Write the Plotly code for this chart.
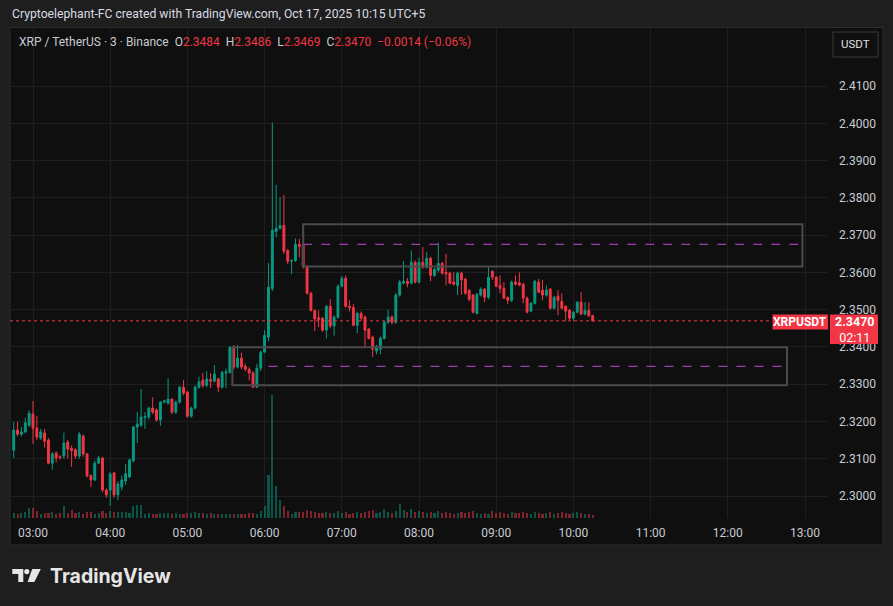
import plotly.graph_objects as go
import pandas as pd

# ---------------- data (3-minute candles, XRP/USDT, Binance) ----------------
start_time = "2025-10-17 02:45"
n_candles = 151
times = pd.date_range(start_time, periods=n_candles, freq="3min")

opens = [
    2.3123, 2.3177, 2.3166, 2.3172, 2.3190, 2.3220, 2.3182, 2.3155, 2.3169, 2.3150,
    2.3088, 2.3115, 2.3105, 2.3107, 2.3145, 2.3128, 2.3124, 2.3107, 2.3161, 2.3113,
    2.3055, 2.3043, 2.3088, 2.3102, 2.3016, 2.3016, 2.3062, 2.3003, 2.3024, 2.3040,
    2.3051, 2.3094, 2.3185, 2.3190, 2.3210, 2.3212, 2.3236, 2.3231, 2.3204, 2.3252,
    2.3249, 2.3260, 2.3225, 2.3252, 2.3292, 2.3279, 2.3214, 2.3236, 2.3292, 2.3311,
    2.3297, 2.3312, 2.3308, 2.3314, 2.3292, 2.3330, 2.3332, 2.3399, 2.3346, 2.3370,
    2.3348, 2.3340, 2.3330, 2.3292, 2.3343, 2.3386, 2.3426, 2.3557, 2.3710, 2.3718,
    2.3726, 2.3659, 2.3630, 2.3632, 2.3675, 2.3673, 2.3616, 2.3544, 2.3498, 2.3478,
    2.3477, 2.3445, 2.3509, 2.3456, 2.3480, 2.3563, 2.3584, 2.3509, 2.3506, 2.3458,
    2.3490, 2.3480, 2.3448, 2.3426, 2.3389, 2.3394, 2.3423, 2.3466, 2.3480, 2.3466,
    2.3539, 2.3571, 2.3576, 2.3571, 2.3627, 2.3574, 2.3627, 2.3614, 2.3638, 2.3592,
    2.3606, 2.3624, 2.3600, 2.3598, 2.3574, 2.3565, 2.3598, 2.3582, 2.3552, 2.3539,
    2.3490, 2.3539, 2.3555, 2.3533, 2.3603, 2.3587, 2.3565, 2.3557, 2.3533, 2.3525,
    2.3574, 2.3572, 2.3568, 2.3531, 2.3496, 2.3517, 2.3574, 2.3552, 2.3539, 2.3555,
    2.3504, 2.3536, 2.3522, 2.3509, 2.3498, 2.3477, 2.3493, 2.3520, 2.3488, 2.3498,
    2.3484,
]
highs = [
    2.3199, 2.3199, 2.3185, 2.3210, 2.3230, 2.3255, 2.3215, 2.3180, 2.3180, 2.3155,
    2.3118, 2.3120, 2.3110, 2.3170, 2.3150, 2.3135, 2.3128, 2.3172, 2.3165, 2.3115,
    2.3058, 2.3095, 2.3108, 2.3105, 2.3020, 2.3065, 2.3065, 2.3040, 2.3055, 2.3086,
    2.3100, 2.3188, 2.3225, 2.3287, 2.3225, 2.3240, 2.3265, 2.3235, 2.3255, 2.3258,
    2.3316, 2.3262, 2.3256, 2.3296, 2.3311, 2.3282, 2.3240, 2.3296, 2.3320, 2.3330,
    2.3335, 2.3330, 2.3351, 2.3318, 2.3335, 2.3342, 2.3402, 2.3405, 2.3405, 2.3385,
    2.3355, 2.3345, 2.3335, 2.3355, 2.3390, 2.3445, 2.3625, 2.4002, 2.3835, 2.3802,
    2.3807, 2.3662, 2.3635, 2.3691, 2.3690, 2.3728, 2.3620, 2.3548, 2.3500, 2.3498,
    2.3480, 2.3512, 2.3528, 2.3485, 2.3568, 2.3590, 2.3592, 2.3525, 2.3515, 2.3495,
    2.3495, 2.3485, 2.3450, 2.3430, 2.3405, 2.3428, 2.3470, 2.3500, 2.3485, 2.3545,
    2.3580, 2.3630, 2.3585, 2.3659, 2.3632, 2.3640, 2.3668, 2.3654, 2.3642, 2.3612,
    2.3680, 2.3628, 2.3650, 2.3602, 2.3600, 2.3602, 2.3602, 2.3586, 2.3555, 2.3542,
    2.3545, 2.3560, 2.3558, 2.3614, 2.3605, 2.3590, 2.3592, 2.3574, 2.3535, 2.3578,
    2.3592, 2.3600, 2.3572, 2.3535, 2.3520, 2.3580, 2.3582, 2.3580, 2.3565, 2.3558,
    2.3537, 2.3552, 2.3544, 2.3512, 2.3502, 2.3496, 2.3523, 2.3547, 2.3520, 2.3520,
    2.3486,
]
lows = [
    2.3102, 2.3160, 2.3160, 2.3168, 2.3185, 2.3140, 2.3150, 2.3150, 2.3130, 2.3085,
    2.3070, 2.3090, 2.3098, 2.3100, 2.3100, 2.3078, 2.3100, 2.3100, 2.3105, 2.3050,
    2.3024, 2.3040, 2.3085, 2.3010, 2.2995, 2.2973, 2.2995, 2.2989, 2.3015, 2.3030,
    2.3048, 2.3090, 2.3142, 2.3185, 2.3180, 2.3205, 2.3220, 2.3200, 2.3188, 2.3248,
    2.3245, 2.3220, 2.3220, 2.3248, 2.3270, 2.3210, 2.3210, 2.3232, 2.3288, 2.3290,
    2.3292, 2.3290, 2.3305, 2.3279, 2.3288, 2.3290, 2.3328, 2.3340, 2.3342, 2.3340,
    2.3335, 2.3310, 2.3290, 2.3290, 2.3335, 2.3415, 2.3415, 2.3550, 2.3694, 2.3715,
    2.3650, 2.3622, 2.3595, 2.3628, 2.3640, 2.3610, 2.3540, 2.3495, 2.3442, 2.3453,
    2.3440, 2.3423, 2.3450, 2.3430, 2.3475, 2.3560, 2.3505, 2.3495, 2.3455, 2.3437,
    2.3470, 2.3400, 2.3420, 2.3373, 2.3380, 2.3380, 2.3420, 2.3462, 2.3460, 2.3462,
    2.3535, 2.3568, 2.3560, 2.3568, 2.3570, 2.3570, 2.3610, 2.3610, 2.3576, 2.3588,
    2.3600, 2.3594, 2.3565, 2.3568, 2.3565, 2.3539, 2.3540, 2.3540, 2.3522, 2.3490,
    2.3487, 2.3535, 2.3520, 2.3528, 2.3580, 2.3560, 2.3544, 2.3528, 2.3515, 2.3520,
    2.3565, 2.3563, 2.3517, 2.3490, 2.3493, 2.3514, 2.3545, 2.3525, 2.3535, 2.3500,
    2.3500, 2.3485, 2.3500, 2.3469, 2.3472, 2.3470, 2.3490, 2.3485, 2.3485, 2.3480,
    2.3469,
]
closes = [
    2.3177, 2.3166, 2.3172, 2.3196, 2.3222, 2.3182, 2.3158, 2.3172, 2.3147, 2.3088,
    2.3113, 2.3102, 2.3103, 2.3142, 2.3126, 2.3122, 2.3107, 2.3166, 2.3113, 2.3054,
    2.3043, 2.3088, 2.3102, 2.3016, 2.3003, 2.3059, 2.3003, 2.3032, 2.3043, 2.3060,
    2.3097, 2.3185, 2.3193, 2.3212, 2.3213, 2.3236, 2.3225, 2.3204, 2.3252, 2.3255,
    2.3260, 2.3225, 2.3252, 2.3292, 2.3276, 2.3214, 2.3236, 2.3292, 2.3306, 2.3297,
    2.3314, 2.3308, 2.3327, 2.3292, 2.3332, 2.3333, 2.3399, 2.3346, 2.3370, 2.3346,
    2.3340, 2.3330, 2.3292, 2.3343, 2.3386, 2.3431, 2.3560, 2.3713, 2.3718, 2.3726,
    2.3657, 2.3630, 2.3632, 2.3675, 2.3670, 2.3616, 2.3544, 2.3498, 2.3475, 2.3474,
    2.3445, 2.3509, 2.3456, 2.3480, 2.3563, 2.3584, 2.3509, 2.3505, 2.3458, 2.3490,
    2.3477, 2.3445, 2.3423, 2.3394, 2.3402, 2.3423, 2.3466, 2.3480, 2.3466, 2.3539,
    2.3574, 2.3576, 2.3570, 2.3627, 2.3574, 2.3627, 2.3614, 2.3638, 2.3592, 2.3608,
    2.3624, 2.3598, 2.3596, 2.3571, 2.3568, 2.3598, 2.3580, 2.3544, 2.3528, 2.3493,
    2.3541, 2.3555, 2.3533, 2.3587, 2.3587, 2.3563, 2.3557, 2.3531, 2.3525, 2.3574,
    2.3568, 2.3566, 2.3531, 2.3493, 2.3517, 2.3576, 2.3547, 2.3539, 2.3552, 2.3504,
    2.3533, 2.3525, 2.3504, 2.3496, 2.3477, 2.3493, 2.3520, 2.3488, 2.3498, 2.3484,
    2.3470,
]
volumes_k = [
    50, 40, 50, 60, 100, 100, 70, 40, 50, 50, 60, 40, 50, 120, 50, 80, 50, 60, 40, 60,
    60, 40, 50, 70, 50, 70, 60, 60, 60, 60, 50, 120, 130, 130, 40, 50, 40, 40, 50, 50,
    50, 40, 50, 40, 40, 50, 50, 60, 50, 50, 40, 50, 40, 40, 40, 40, 40, 40, 40, 40,
    40, 50, 50, 40, 70, 120, 430, 1230, 320, 180, 120, 70, 40, 60, 60, 60, 80, 70, 60, 50,
    50, 60, 50, 50, 70, 50, 60, 40, 50, 60, 50, 60, 70, 80, 50, 60, 90, 60, 50, 70,
    140, 80, 60, 90, 60, 70, 60, 50, 60, 50, 70, 50, 60, 50, 40, 50, 60, 50, 60, 70,
    50, 40, 50, 40, 70, 50, 60, 50, 40, 60, 50, 50, 60, 50, 40, 60, 50, 40, 50, 60,
    40, 50, 60, 50, 40, 50, 60, 50, 40, 40, 30,
]

price_ticks = [2.30, 2.31, 2.32, 2.33, 2.34, 2.35, 2.36, 2.37, 2.38, 2.39, 2.40, 2.41]
last_price = 2.3470

# zones drawn on the chart (price levels / times)
upper_zone = dict(t0="2025-10-17 06:30", t1="2025-10-17 12:58", top=2.3729, bottom=2.3616, mid=2.3675, mid_t0="2025-10-17 06:30")
lower_zone = dict(t0="2025-10-17 05:35", t1="2025-10-17 12:46", top=2.3399, bottom=2.3297, mid=2.3348, mid_t0="2025-10-17 06:03")

# ---------------- styling ----------------
W, H = 893, 606
L, R, T, B = 10, 828, 28, 518          # plot area in pixels
UP, DOWN = "#089981", "#f23645"
BG_OUT, BG_PANE = "#1e1e1e", "#0f0f0f"
GRID = "#1e1e1e"
TXT = "#c9ccd3"
FONT = "Roboto"


def px(x):
    return (x - L) / (R - L)


def py(y):
    return (B - y) / (B - T)


fig = go.Figure()

vol_colors = [
    "rgba(8,153,129,0.5)" if c >= o else "rgba(242,54,69,0.5)"
    for o, c in zip(opens, closes)
]
fig.add_trace(go.Bar(
    x=times, y=volumes_k, marker=dict(color=vol_colors, line=dict(width=0)),
    width=3 * 60 * 1000 * 0.55, yaxis="y2", hoverinfo="skip", showlegend=False,
))

fig.add_trace(go.Candlestick(
    x=times, open=opens, high=highs, low=lows, close=closes,
    increasing=dict(line=dict(color=UP, width=1), fillcolor=UP),
    decreasing=dict(line=dict(color=DOWN, width=1), fillcolor=DOWN),
    whiskerwidth=0, showlegend=False,
))

y_top = 2.30 + (496 - T) / 3727.0
y_bot = 2.30 - (B - 496) / 3727.0
x_left = pd.Timestamp("2025-10-17 03:00") - pd.Timedelta(hours=(33 - L) / 77.2)
x_right = pd.Timestamp("2025-10-17 03:00") + pd.Timedelta(hours=(R - 33) / 77.2)

fig.update_layout(
    width=W, height=H,
    margin=dict(l=L, r=W - R, t=T, b=H - B, pad=0),
    paper_bgcolor=BG_OUT, plot_bgcolor=BG_PANE,
    font=dict(family=FONT, size=12, color=TXT),
    showlegend=False,
    xaxis=dict(
        type="date", range=[x_left, x_right], rangeslider=dict(visible=False),
        tickformat="%H:%M", dtick=3600000, tick0="2025-10-17 03:00",
        showgrid=True, gridcolor=GRID, gridwidth=1, zeroline=False,
        showline=False, ticks="", ticklabelstandoff=6,
        tickfont=dict(size=12, color=TXT, family=FONT), fixedrange=True,
    ),
    yaxis=dict(
        side="right", range=[y_bot, y_top], tickvals=price_ticks,
        ticktext=[f"{v:.4f}" for v in price_ticks],
        showgrid=True, gridcolor=GRID, gridwidth=1, zeroline=False,
        showline=False, ticks="", ticklabelstandoff=10,
        tickfont=dict(size=12, color=TXT, family=FONT),
    ),
    yaxis2=dict(
        overlaying="y", range=[0, max(volumes_k) * (B - T) / 123.0],
        visible=False, showgrid=False,
    ),
    bargap=0,
)

shapes = []
# chart pane background + border
shapes.append(dict(type="rect", xref="paper", yref="paper",
                   x0=px(10), x1=px(883), y0=py(545), y1=py(27.5),
                   fillcolor=BG_PANE, line=dict(color="#2c2c2c", width=1), layer="below"))

# zones
for z in (upper_zone, lower_zone):
    shapes.append(dict(type="rect", xref="x", yref="y", x0=z["t0"], x1=z["t1"],
                       y0=z["bottom"], y1=z["top"], line=dict(color="#4a4a4a", width=2),
                       fillcolor="rgba(0,0,0,0)", layer="above"))
    shapes.append(dict(type="line", xref="x", yref="y", x0=z["mid_t0"], x1=z["t1"],
                       y0=z["mid"], y1=z["mid"], line=dict(color="#9c3fb0", width=1.2, dash="dash"),
                       layer="above"))

# last price dotted line
shapes.append(dict(type="line", xref="paper", yref="y", x0=0, x1=px(772), y0=last_price, y1=last_price,
                   line=dict(color=DOWN, width=1, dash="dot"), layer="above"))

# labels on the price scale
shapes.append(dict(type="rect", xref="paper", yref="paper", x0=px(772.5), x1=px(828),
                   y0=py(329.5), y1=py(314.5), fillcolor=DOWN, line=dict(width=0), layer="above"))
shapes.append(dict(type="rect", xref="paper", yref="paper", x0=px(830), x1=px(878),
                   y0=py(344), y1=py(314.5), fillcolor=DOWN, line=dict(width=0), layer="above"))

# USDT button
shapes.append(dict(type="rect", xref="paper", yref="paper", x0=px(833), x1=px(878),
                   y0=py(57), y1=py(32), fillcolor=BG_PANE, line=dict(color="#3a3a3a", width=1),
                   layer="above"))

# TradingView logo
shapes.append(dict(type="path", xref="paper", yref="paper", layer="above",
                   path=(f"M {px(12.3)},{py(569)} L {px(23.3)},{py(569)} L {px(23.3)},{py(582)} "
                         f"L {px(18.3)},{py(582)} L {px(18.3)},{py(574)} L {px(12.3)},{py(574)} Z"),
                   fillcolor="#e6e6e6", line=dict(width=0)))
shapes.append(dict(type="circle", xref="paper", yref="paper", layer="above",
                   x0=px(24.2), x1=px(29.4), y0=py(574.2), y1=py(569), fillcolor="#e6e6e6",
                   line=dict(width=0)))
shapes.append(dict(type="path", xref="paper", yref="paper", layer="above",
                   path=(f"M {px(32.2)},{py(569)} L {px(40.8)},{py(569)} L {px(34.3)},{py(582)} "
                         f"L {px(27.6)},{py(582)} Z"),
                   fillcolor="#e6e6e6", line=dict(width=0)))

fig.update_layout(shapes=shapes)

ann = []
ann.append(dict(xref="paper", yref="paper", x=px(10), y=py(14), xanchor="left", yanchor="middle",
                text="Cryptoelephant-FC created with TradingView.com, Oct 17, 2025 10:15 UTC+5",
                showarrow=False, font=dict(size=12.2, color="#d8dbe2", family=FONT)))
red = DOWN
legend_txt = (
    "XRP / TetherUS · 3 · Binance  "
    f"O<span style='color:{red}'>2.3484</span>  H<span style='color:{red}'>2.3486</span>  "
    f"L<span style='color:{red}'>2.3469</span>  C<span style='color:{red}'>2.3470</span>  "
    f"<span style='color:{red}'>−0.0014 (−0.06%)</span>"
)
ann.append(dict(xref="paper", yref="paper", x=px(17), y=py(42), xanchor="left", yanchor="middle",
                text=legend_txt, showarrow=False, font=dict(size=12, color="#c9ccd3", family=FONT)))
ann.append(dict(xref="paper", yref="paper", x=px(855.5), y=py(44.5), xanchor="center", yanchor="middle",
                text="USDT", showarrow=False, font=dict(size=11.5, color="#e0e0e0", family=FONT)))
ann.append(dict(xref="paper", yref="paper", x=px(800.2), y=py(322), xanchor="center", yanchor="middle",
                text="<b>XRPUSDT</b>", showarrow=False, font=dict(size=12, color="white", family=FONT)))
ann.append(dict(xref="paper", yref="paper", x=px(854), y=py(329), xanchor="center", yanchor="middle",
                text="<b>2.3470</b><br>02:11", showarrow=False,
                font=dict(size=12.5, color="white", family=FONT)))
ann.append(dict(xref="paper", yref="paper", x=px(48), y=py(576), xanchor="left", yanchor="middle",
                text="<b>TradingView</b>", showarrow=False,
                font=dict(size=19.5, color="#e6e6e6", family="Inter")))
fig.update_layout(annotations=ann)

fig.write_html(
    "out.html",
    config={"displayModeBar": False},
    post_script="document.body.style.margin='0';document.body.style.background='#1e1e1e';",
)
